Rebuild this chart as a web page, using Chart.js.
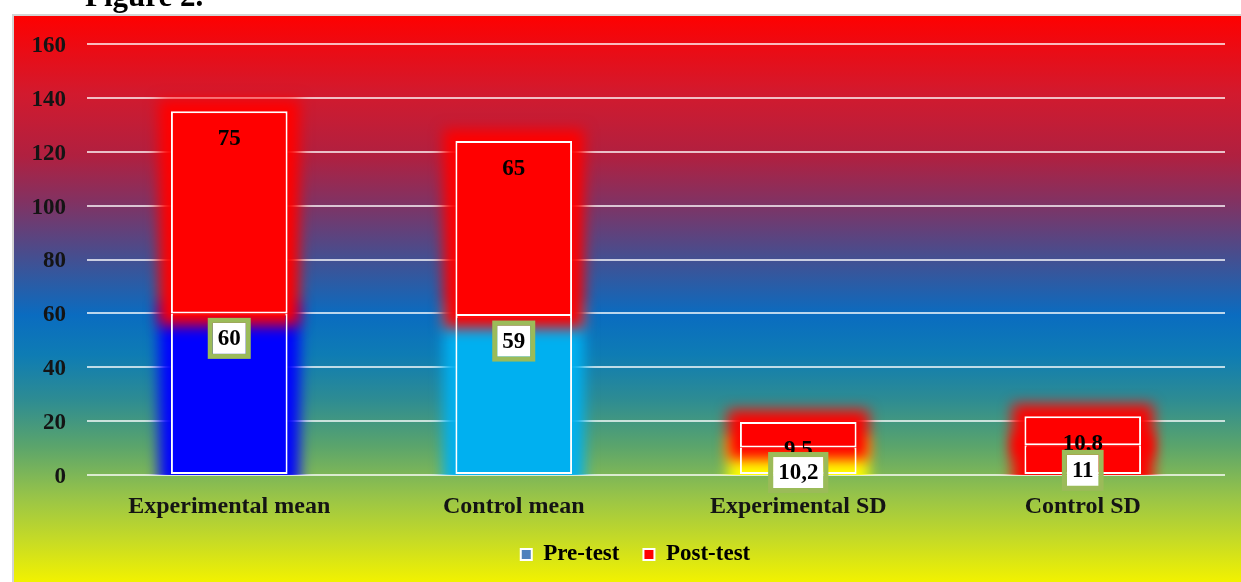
<!DOCTYPE html>
<html>
<head>
<meta charset="utf-8">
<script src="https://cdn.jsdelivr.net/npm/chart.js@4.4.0/dist/chart.umd.min.js"></script>
<style>
  html, body { margin: 0; padding: 0; background: #fff; overflow: hidden; }
  #wrap { width: 1241px; height: 582px; position: relative; }
  canvas { display: block; }
</style>
</head>
<body>
<div id="wrap"><canvas id="chart" width="1241" height="582"></canvas></div>
<script>
// Chart data
const categories = ['Experimental mean', 'Control mean', 'Experimental SD', 'Control SD'];
const preTest = [60, 59, 10.2, 11];
const postTest = [75, 65, 9.5, 10.8];
const preColors = ['#0000ff', '#00b0f0', '#ffff00', '#ff0000'];
const postColors = ['#ff0000', '#ff0000', '#ff0000', '#ff0000'];
const seriesNames = ['Pre-test', 'Post-test'];
const legendColors = ['#4f81bd', '#ff0000'];
const yMax = 160;
const yStep = 20;

const SERIF = '"Liberation Serif", "Times New Roman", serif';
const TEXT = '#141414';

const fmt = v => String(v).replace('.', ',');

function barRect(el) {
  const p = el.getProps(['x', 'y', 'base', 'width'], true);
  const top = Math.min(p.y, p.base), bottom = Math.max(p.y, p.base);
  return { left: p.x - p.width / 2, top, bottom, width: p.width, cx: p.x };
}

function glow(ctx, r, color) {
  ctx.save();
  ctx.filter = 'blur(7px)';
  ctx.fillStyle = color;
  const s = 12;
  ctx.fillRect(r.left - s, r.top - s, r.width + 2 * s, r.bottom - r.top + 2 * s);
  ctx.restore();
}

// Framed gradient backdrop and the figure caption
const backdrop = {
  id: 'backdrop',
  afterLayout(chart) {
    // nudge the legend row a little right of centre
    if (chart.legend) { chart.legend.left += 17; chart.legend.right += 17; }
  },
  beforeDraw(chart) {
    const ctx = chart.ctx;
    const W = chart.width, H = chart.height;
    ctx.save();
    ctx.fillStyle = '#ffffff';
    ctx.fillRect(0, 0, W, H);
    const x0 = 12, y0 = 14;
    const g = ctx.createLinearGradient(0, y0, 0, H);
    g.addColorStop(0.00, '#ff0000');
    g.addColorStop(0.14, '#d21a2e');
    g.addColorStop(0.25, '#b02040');
    g.addColorStop(0.33, '#823262');
    g.addColorStop(0.42, '#4a4c8c');
    g.addColorStop(0.53, '#0a6cc0');
    g.addColorStop(0.60, '#0e7cb4');
    g.addColorStop(0.68, '#2e8c92');
    g.addColorStop(0.76, '#5aa46c');
    g.addColorStop(0.85, '#98c448');
    g.addColorStop(0.93, '#c8dc24');
    g.addColorStop(1.00, '#f2f200');
    ctx.fillStyle = g;
    ctx.fillRect(x0, y0, W - x0, H - y0);
    ctx.strokeStyle = '#d4d4d4';
    ctx.lineWidth = 2;
    ctx.beginPath();
    ctx.moveTo(x0 + 1, H);
    ctx.lineTo(x0 + 1, y0 + 1);
    ctx.lineTo(W, y0 + 1);
    ctx.stroke();
    ctx.fillStyle = '#000';
    ctx.font = 'bold 31px ' + SERIF;
    ctx.textAlign = 'left';
    ctx.textBaseline = 'alphabetic';
    ctx.fillText('Figure 2.', 85, 6);
    ctx.restore();
  }
};

// Soft coloured halo around each bar, plus value labels
const halo = {
  id: 'halo',
  beforeDatasetsDraw(chart) {
    const ctx = chart.ctx, area = chart.chartArea;
    ctx.save();
    ctx.beginPath();
    ctx.rect(0, 0, chart.width, area.bottom);
    ctx.clip();
    chart.getDatasetMeta(0).data.forEach((el, i) => glow(ctx, barRect(el), preColors[i]));
    chart.getDatasetMeta(1).data.forEach((el, i) => glow(ctx, barRect(el), postColors[i]));
    ctx.restore();
  },
  afterDatasetsDraw(chart) {
    const ctx = chart.ctx;
    const pre = chart.getDatasetMeta(0).data;
    const post = chart.getDatasetMeta(1).data;
    // post-test halo spills over the top of the pre-test bar
    post.forEach((el, i) => {
      const rp = barRect(pre[i]);
      ctx.save();
      ctx.beginPath();
      ctx.rect(rp.left + 2, rp.top, rp.width - 4, rp.bottom - rp.top);
      ctx.clip();
      glow(ctx, barRect(el), postColors[i]);
      ctx.restore();
    });

    ctx.save();
    ctx.font = 'bold 23px ' + SERIF;
    ctx.textAlign = 'center';
    ctx.textBaseline = 'middle';
    ctx.fillStyle = '#000';
    post.forEach((el, i) => {
      const r = barRect(el);
      ctx.fillText(fmt(postTest[i]), r.cx, r.top + 28);
    });
    pre.forEach((el, i) => {
      const r = barRect(el);
      const txt = fmt(preTest[i]);
      const w = ctx.measureText(txt).width + 10;
      const h = 31;
      const cy = r.top + 25;
      ctx.fillStyle = '#ffffff';
      ctx.fillRect(r.cx - w / 2, cy - h / 2, w, h);
      ctx.strokeStyle = '#9bbb59';
      ctx.lineWidth = 5;
      ctx.strokeRect(r.cx - w / 2 - 2.5, cy - h / 2 - 2.5, w + 5, h + 5);
      ctx.fillStyle = '#000';
      ctx.fillText(txt, r.cx, cy + 1);
    });
    ctx.restore();
  }
};

new Chart(document.getElementById('chart'), {
  type: 'bar',
  data: {
    labels: categories,
    datasets: [
      {
        label: seriesNames[0],
        data: preTest,
        backgroundColor: preColors,
        borderColor: '#ffffff',
        borderWidth: 2,
        borderSkipped: false
      },
      {
        label: seriesNames[1],
        data: postTest,
        backgroundColor: postColors,
        borderColor: '#ffffff',
        borderWidth: 2,
        borderSkipped: false
      }
    ]
  },
  options: {
    responsive: false,
    animation: false,
    events: [],
    layout: { padding: { left: 12, right: 16, top: 44, bottom: 6 } },
    datasets: { bar: { categoryPercentage: 1, barPercentage: 0.41 } },
    scales: {
      x: {
        stacked: true,
        grid: { display: false },
        border: { display: false },
        ticks: {
          color: TEXT,
          padding: 9,
          font: { family: SERIF, size: 24, weight: 'bold' }
        },
        afterFit(s) { s.height = 44; }
      },
      y: {
        stacked: true,
        min: 0,
        max: yMax,
        grid: { color: 'rgba(255,255,255,0.72)', lineWidth: 2, drawTicks: false },
        border: { display: false },
        ticks: {
          stepSize: yStep,
          color: TEXT,
          padding: 21,
          labelOffset: 2,
          font: { family: SERIF, size: 23, weight: 'bold' }
        },
        afterFit(s) { s.width = 75; }
      }
    },
    plugins: {
      title: { display: false },
      tooltip: { enabled: false },
      legend: {
        position: 'bottom',
        labels: {
          color: '#000',
          boxWidth: 11,
          boxHeight: 11,
          padding: 24,
          font: { family: SERIF, size: 23, weight: 'bold' },
          generateLabels() {
            return seriesNames.map((n, i) => ({
              text: n,
              fillStyle: legendColors[i],
              strokeStyle: '#ffffff',
              lineWidth: 2,
              fontColor: '#000',
              datasetIndex: i,
              hidden: false
            }));
          }
        }
      }
    }
  },
  plugins: [backdrop, halo]
});
</script>
</body>
</html>
